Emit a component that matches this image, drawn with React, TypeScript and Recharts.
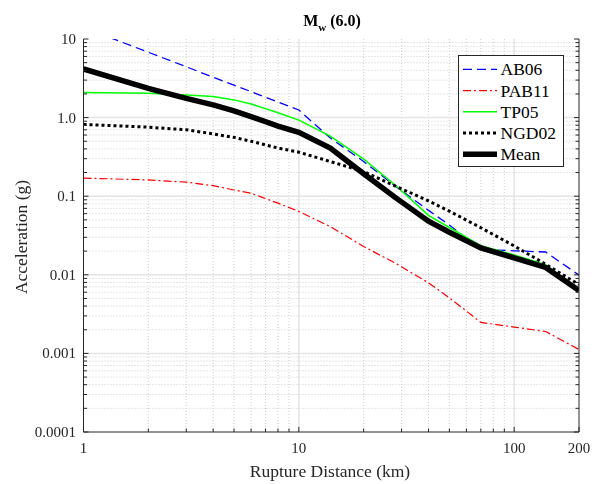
import React from 'react';
import { LineChart, Line, XAxis, YAxis, CartesianGrid, Legend } from 'recharts';

// distances (km) and accelerations (g)
const DISTANCE = [1, 2, 3, 4, 5, 6, 8, 10, 14, 20, 28, 40, 50, 70, 100, 140, 200];
const AB06 = [14.0, 6.78, 4.43, 3.27, 2.59, 2.14, 1.58, 1.25, 0.55, 0.276, 0.135, 0.066, 0.043, 0.021, 0.0202, 0.0195, 0.0099];
const PAB11 = [0.17, 0.161, 0.151, 0.136, 0.12, 0.109, 0.0816, 0.064, 0.041, 0.0229, 0.0141, 0.0079, 0.0051, 0.00248, 0.00216, 0.0019, 0.00112];
const TP05 = [2.08, 2.04, 1.94, 1.85, 1.68, 1.49, 1.15, 0.93, 0.58, 0.296, 0.139, 0.057, 0.04, 0.0235, 0.0179, 0.0135, 0.0062];
const NGD02 = [0.82, 0.755, 0.7, 0.62, 0.56, 0.5, 0.41, 0.363, 0.276, 0.206, 0.135, 0.087, 0.0645, 0.0397, 0.0233, 0.0136, 0.0075];
const MEAN = [4.16, 2.36, 1.76, 1.45, 1.22, 1.03, 0.78, 0.65, 0.41, 0.193, 0.0966, 0.048, 0.0348, 0.022, 0.0164, 0.0124, 0.0063];

const X_MAJOR = [1, 10, 100, 200];
const X_MINOR = [2, 3, 4, 5, 6, 7, 8, 9, 20, 30, 40, 50, 60, 70, 80, 90];
const Y_MAJOR = [0.0001, 0.001, 0.01, 0.1, 1, 10];
const Y_LABELS = ['0.0001', '0.001', '0.01', '0.1', '1.0', '10'];
const Y_MINOR = [0.0001, 0.001, 0.01, 0.1, 1].flatMap((d) =>
  [2, 3, 4, 5, 6, 7, 8, 9].map((m) => +(d * m).toPrecision(2))
);

const X_TICKS = [...X_MAJOR, ...X_MINOR].sort((a, b) => a - b);
const Y_TICKS = [...Y_MAJOR, ...Y_MINOR].sort((a, b) => a - b);

const SERIES = [
  { key: 'AB06', values: AB06, color: '#0000ff', width: 1.3, dash: '9 5' },
  { key: 'PAB11', values: PAB11, color: '#ff0000', width: 1.2, dash: '8 3 2 3' },
  { key: 'TP05', values: TP05, color: '#00ff00', width: 1.5, dash: undefined },
  { key: 'NGD02', values: NGD02, color: '#000000', width: 3, dash: '3 3' },
  { key: 'Mean', values: MEAN, color: '#000000', width: 5.5, dash: undefined },
];

const data = DISTANCE.map((d, i) => {
  const row: Record<string, number> = { d };
  SERIES.forEach((s) => (row[s.key] = s.values[i]));
  return row;
});

const FONT = 'Liberation Serif';
const AXIS = '#262626';

const BottomTick = ({ x, y, payload }: any) => {
  const major = X_MAJOR.includes(payload.value);
  return (
    <g>
      <line x1={x} x2={x} y1={y} y2={y - (major ? 5 : 3.5)} stroke={AXIS} />
      {major && (
        <text x={x} y={y + 21} textAnchor="middle" fontFamily={FONT} fontSize={15} fill={AXIS}>
          {payload.value}
        </text>
      )}
    </g>
  );
};

const TopTick = ({ x, y, payload }: any) => {
  const major = X_MAJOR.includes(payload.value);
  return <line x1={x} x2={x} y1={y} y2={y + (major ? 5 : 3.5)} stroke={AXIS} />;
};

const LeftTick = ({ x, y, payload }: any) => {
  const idx = Y_MAJOR.indexOf(payload.value);
  return (
    <g>
      <line x1={x} x2={x + (idx >= 0 ? 5 : 3.5)} y1={y} y2={y} stroke={AXIS} />
      {idx >= 0 && (
        <text x={x - 7.5} y={y + 5} textAnchor="end" fontFamily={FONT} fontSize={15} fill={AXIS}>
          {Y_LABELS[idx]}
        </text>
      )}
    </g>
  );
};

const RightTick = ({ x, y, payload }: any) => {
  const major = Y_MAJOR.includes(payload.value);
  return <line x1={x} x2={x - (major ? 5 : 3.5)} y1={y} y2={y} stroke={AXIS} />;
};

const LegendBox = () => (
  <svg width={106} height={112} style={{ display: 'block' }}>
    <rect x={0.5} y={0.5} width={105} height={111} fill="#fff" stroke={AXIS} />
    {SERIES.map((s, i) => {
      const cy = 14.3 + i * 21.25;
      return (
        <g key={s.key}>
          <line x1={5} x2={39} y1={cy} y2={cy} stroke={s.color} strokeWidth={s.width} strokeDasharray={s.dash} />
          <text x={42.5} y={cy + 6} fontFamily={FONT} fontSize={17.5} fill="#000">
            {s.key}
          </text>
        </g>
      );
    })}
  </svg>
);

export default function App() {
  // fixed so the right-most tick label isn't clipped by the page body
  return (
    <div style={{ position: 'fixed', left: 8, top: 8, width: 587, height: 476 }}>
      <LineChart width={587} height={476} data={data} margin={{ top: 31, right: 15, bottom: 0, left: 0 }}>
        <CartesianGrid verticalValues={X_MINOR} horizontalValues={Y_MINOR} stroke="#cdcdcd" strokeDasharray="1 2" />
        <CartesianGrid verticalValues={[10, 100]} horizontalValues={[0.001, 0.01, 0.1, 1]} stroke="#e4e4e4" strokeWidth={1.5} />
        <XAxis
          dataKey="d"
          type="number"
          scale="log"
          domain={[1, 200]}
          allowDataOverflow
          ticks={X_TICKS}
          interval={0}
          height={52}
          tickSize={0}
          tickMargin={0}
          tickLine={false}
          axisLine={{ stroke: AXIS }}
          tick={<BottomTick />}
        />
        <XAxis
          xAxisId="top"
          orientation="top"
          dataKey="d"
          type="number"
          scale="log"
          domain={[1, 200]}
          allowDataOverflow
          ticks={X_TICKS}
          interval={0}
          height={0}
          tickSize={0}
          tickMargin={0}
          tickLine={false}
          axisLine={{ stroke: AXIS }}
          tick={<TopTick />}
        />
        <YAxis
          type="number"
          scale="log"
          domain={[0.0001, 10]}
          allowDataOverflow
          ticks={Y_TICKS}
          interval={0}
          width={75.5}
          tickSize={0}
          tickMargin={0}
          tickLine={false}
          axisLine={{ stroke: AXIS }}
          tick={<LeftTick />}
        />
        <YAxis
          yAxisId="right"
          orientation="right"
          type="number"
          scale="log"
          domain={[0.0001, 10]}
          allowDataOverflow
          ticks={Y_TICKS}
          interval={0}
          width={1}
          tickSize={0}
          tickMargin={0}
          tickLine={false}
          axisLine={{ stroke: AXIS }}
          tick={<RightTick />}
        />
        {SERIES.map((s) => (
          <Line
            key={s.key}
            dataKey={s.key}
            type="linear"
            stroke={s.color}
            strokeWidth={s.width}
            strokeDasharray={s.dash}
            dot={false}
            activeDot={false}
            isAnimationActive={false}
          />
        ))}
        <Legend
          layout="horizontal"
          align="center"
          verticalAlign="middle"
          wrapperStyle={{ top: 47, left: 450, width: 106, height: 112 }}
          content={() => <LegendBox />}
        />
        <text x={324} y={18} textAnchor="middle" fontFamily={FONT} fontSize={16} fontWeight="bold" fill="#000">
          M
          <tspan fontSize={11} dy={5}>w</tspan>
          <tspan dy={-5}> (6.0)</tspan>
        </text>
        <text x={322} y={469} textAnchor="middle" fontFamily={FONT} fontSize={17.5} fill={AXIS}>
          Rupture Distance (km)
        </text>
        <text x={19} y={229} transform="rotate(-90 19 229)" textAnchor="middle" fontFamily={FONT} fontSize={17.5} fill={AXIS}>
          Acceleration (g)
        </text>
      </LineChart>
    </div>
  );
}
